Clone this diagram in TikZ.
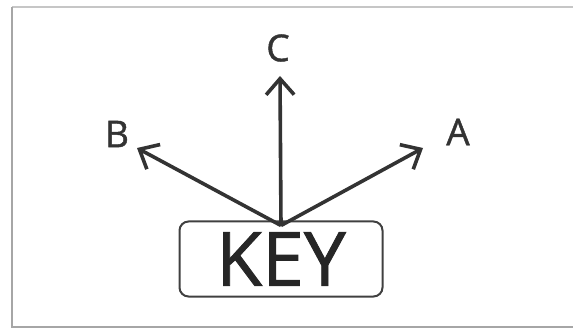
\documentclass[tikz,border=0pt]{standalone}
\usepackage{fontspec}
\setmainfont[FakeBold=1.2,AutoFakeBold=1.2]{Open Sans}
\usetikzlibrary{arrows.meta}

\tikzset{
  keybox/.style={draw=black!75, line width=2pt, rounded corners=9pt,
    minimum width=203pt, minimum height=75pt, inner sep=0pt,
    font=\fontsize{75}{75}\selectfont\bfseries, text=black!85},
  dirlabel/.style={inner sep=0pt, font=\fontsize{37}{37}\selectfont\bfseries, text=black!80},
  dirarrow/.style={-{Straight Barb[length=16pt,width=28pt,line width=3.6pt]},
    line width=3.6pt, draw=black!80}
}

\begin{document}
\begin{tikzpicture}[x=1pt,y=-1pt]
        \useasboundingbox (0,0) rectangle (573,331);
        % ==== FRAME ====
        \draw[gray!45, line width=1.2pt] (12,7) -- (590,7);
        \draw[gray!70, line width=2.4pt] (12,7) -- (12,327) -- (590,327);
        % ==== KEY BOX ====
        \node[keybox] (key) at (281,259) {KEY};
        % ==== DIRECTIONS ====
        \node[dirlabel] (c) at (278,48) {C};
        \node[dirlabel] (b) at (117,134) {B};
        \node[dirlabel] (a) at (458,132) {A};
        \coordinate (tipc) at (280,76);
        \coordinate (tipb) at (137,148);
        \coordinate (tipa) at (423,148);
        \draw[dirarrow] ([yshift=-5pt]key.north) -- (tipc);
        \draw[dirarrow] ([yshift=-5pt]key.north) -- (tipb);
        \draw[dirarrow] ([yshift=-5pt]key.north) -- (tipa);
     \end{tikzpicture}
\end{document}
